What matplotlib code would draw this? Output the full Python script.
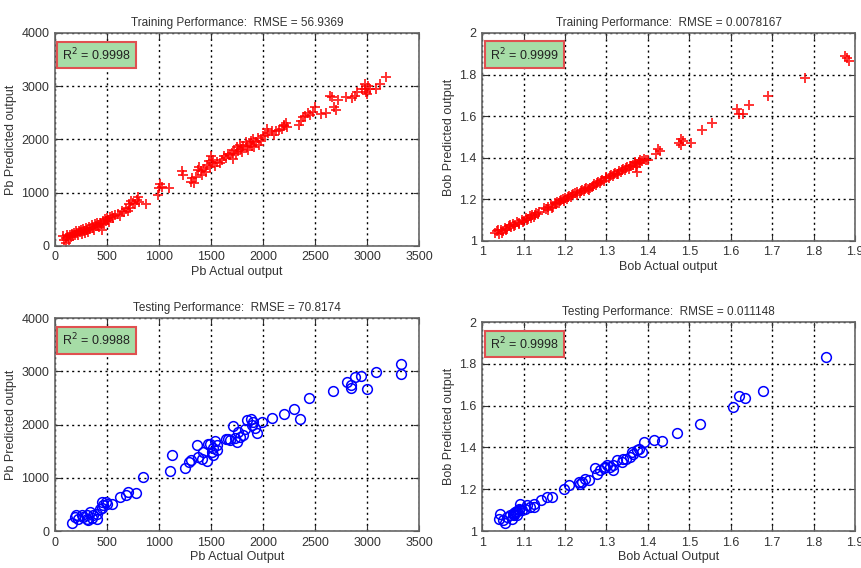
import matplotlib
matplotlib.use("Agg")
import matplotlib.pyplot as plt
from matplotlib.ticker import FuncFormatter

plt.rcParams['font.family'] = ['Liberation Sans Narrow', 'Liberation Sans', 'DejaVu Sans']

# Training Pb (actual, predicted)
pb_train_x = [80, 90, 100, 100, 110, 120, 130, 140, 150, 160, 170, 180, 190, 200, 210, 220, 230, 240,
              250, 260, 270, 280, 290, 300, 310, 320, 330, 340, 350, 360, 370, 380, 390, 400, 410, 420,
              430, 440, 450, 460, 470, 480, 490, 500, 510, 520, 530, 550, 560, 580, 600, 620, 640, 660,
              680, 700, 710, 720, 730, 750, 770, 790, 800, 810, 870,
              990, 1000, 1010, 1030, 1090,
              1220, 1230, 1310, 1320, 1330, 1350, 1370, 1380, 1400, 1410, 1430, 1450, 1460, 1480, 1490,
              1500, 1510, 1520, 1540, 1560, 1580, 1600, 1620, 1640, 1660, 1680, 1700, 1710, 1720, 1740,
              1750, 1760, 1780, 1790, 1800, 1810, 1830, 1840, 1850, 1870, 1880, 1890, 1900, 1910, 1930,
              1950, 1960, 1980, 2000, 2020, 2040, 2050, 2080, 2100, 2120, 2150, 2180, 2200, 2200, 2220,
              2230, 2340, 2360, 2380, 2400, 2430, 2450, 2480, 2500, 2560, 2600, 2640, 2660, 2680, 2700,
              2720, 2800, 2850, 2880, 2900, 2950, 2980, 2980, 2990, 3000, 3010, 3030, 3080, 3120, 3180]
pb_train_y = [180, 120, 60, 150, 200, 170, 110, 210, 160, 230, 190, 250, 210, 280, 240, 200, 290, 260,
              300, 230, 320, 280, 250, 340, 300, 270, 360, 320, 390, 340, 300, 410, 370, 430, 390, 350,
              440, 410, 300, 460, 420, 500, 470, 520, 480, 450, 540, 560, 520, 580, 600, 560, 650, 630,
              690, 660, 780, 720, 850, 800, 780, 870, 920, 820, 780,
              960, 1080, 1160, 1100, 1080,
              1400, 1340, 1200, 1280, 1180, 1300, 1420, 1480, 1400, 1340, 1450, 1380, 1520, 1600, 1480,
              1680, 1550, 1620, 1500, 1580, 1560, 1620, 1680, 1650, 1720, 1700, 1750, 1640, 1800, 1720,
              1850, 1780, 1900, 1820, 1760, 1880, 1950, 1850, 1800, 1920, 1980, 1880, 2000, 1850, 1950,
              2020, 1900, 1980, 2060, 2080, 2200, 2120, 2150, 2080, 2150, 2170, 2200, 2280, 2260, 2300,
              2240, 2280, 2350, 2420, 2440, 2500, 2460, 2520, 2600, 2480, 2500, 2820, 2800, 2600, 2550,
              2750, 2800, 2780, 2820, 2900, 2950, 3050, 2950, 2900, 2850, 3000, 2950, 2950, 3050, 3170]

# Testing Pb
pb_test_x = [160, 202, 224, 272, 310, 336, 368, 400, 432, 464, 490, 544, 304, 352, 400, 448, 496,
             192, 256, 320, 448,
             624, 682, 704, 778, 842, 1104, 1120, 1248, 1290, 1302, 1360, 1370, 1408, 1424, 1456,
             1472, 1488, 1504, 1514, 1520, 1536, 1552, 1558, 1642, 1664, 1680, 1706, 1728, 1744,
             1760, 1776, 1802, 1824, 1846, 1878, 1888, 1904, 1920, 1942, 1984, 2080, 2198, 2294,
             2358, 2442, 2672, 2806, 2848, 2848, 2880, 2944, 2998, 3088, 3328, 3328]
pb_test_y = [157, 295, 232, 264, 295, 358, 295, 327, 421, 484, 546, 515, 232, 251, 232, 433, 515,
             264, 308, 201, 546,
             640, 672, 735, 722, 1017, 1137, 1438, 1187, 1300, 1331, 1614, 1382, 1363, 1488, 1313,
             1639, 1626, 1488, 1426, 1551, 1701, 1614, 1520, 1727, 1727, 1708, 1978, 1740, 1677,
             1865, 1771, 1802, 1915, 2085, 2104, 1991, 2054, 1928, 1834, 2041, 2129, 2192, 2292,
             2104, 2506, 2631, 2795, 2744, 2682, 2901, 2920, 2669, 2983, 3140, 2945]

# Training Bob
bob_train_x = [1.030, 1.035, 1.040, 1.045, 1.050, 1.055, 1.060, 1.065, 1.070, 1.075, 1.080, 1.085,
               1.090, 1.095, 1.100, 1.105, 1.110, 1.115, 1.120, 1.125, 1.130, 1.135, 1.150, 1.155,
               1.160, 1.165, 1.170, 1.175, 1.180, 1.185, 1.190, 1.195, 1.200, 1.205, 1.210, 1.215,
               1.220, 1.225, 1.230, 1.235, 1.240, 1.245, 1.250, 1.255, 1.260, 1.265, 1.270, 1.275,
               1.280, 1.285, 1.290, 1.295, 1.300, 1.305, 1.310, 1.315, 1.320, 1.325, 1.330, 1.335,
               1.340, 1.345, 1.350, 1.355, 1.360, 1.365, 1.370, 1.375, 1.375, 1.380, 1.385, 1.390,
               1.395, 1.400,
               1.038, 1.048, 1.058, 1.068, 1.078, 1.088, 1.098, 1.108, 1.118, 1.128, 1.138, 1.158,
               1.168, 1.178, 1.188, 1.198, 1.208, 1.218, 1.228, 1.238, 1.248, 1.258, 1.268, 1.278,
               1.288, 1.298, 1.308, 1.318, 1.328, 1.338, 1.348, 1.358, 1.368, 1.372, 1.378, 1.382,
               1.420, 1.425, 1.430, 1.475, 1.480, 1.485, 1.480, 1.505, 1.530, 1.555, 1.615, 1.620,
               1.630, 1.645, 1.690, 1.780, 1.875, 1.885, 1.880]
bob_train_y = [1.040, 1.045, 1.035, 1.050, 1.045, 1.060, 1.055, 1.070, 1.065, 1.080, 1.075, 1.090,
               1.085, 1.100, 1.095, 1.110, 1.105, 1.120, 1.125, 1.115, 1.135, 1.130, 1.160, 1.155,
               1.165, 1.170, 1.165, 1.180, 1.185, 1.180, 1.195, 1.200, 1.205, 1.200, 1.215, 1.210,
               1.225, 1.230, 1.235, 1.230, 1.245, 1.240, 1.255, 1.250, 1.255, 1.260, 1.275, 1.270,
               1.285, 1.280, 1.295, 1.290, 1.305, 1.300, 1.315, 1.310, 1.325, 1.320, 1.335, 1.330,
               1.345, 1.340, 1.355, 1.345, 1.360, 1.365, 1.380, 1.330, 1.370, 1.390, 1.385, 1.395,
               1.390, 1.390,
               1.050, 1.040, 1.050, 1.075, 1.070, 1.080, 1.090, 1.100, 1.110, 1.125, 1.140, 1.150,
               1.160, 1.175, 1.190, 1.190, 1.210, 1.220, 1.220, 1.240, 1.250, 1.245, 1.265, 1.280,
               1.290, 1.300, 1.310, 1.320, 1.320, 1.340, 1.350, 1.360, 1.375, 1.355, 1.380, 1.375,
               1.420, 1.440, 1.430, 1.470, 1.490, 1.480, 1.460, 1.470, 1.535, 1.565, 1.635, 1.610,
               1.610, 1.655, 1.695, 1.785, 1.890, 1.865, 1.880]

# Testing Bob
bob_test_x = [1.830, 1.679, 1.635, 1.621, 1.605, 1.526, 1.471, 1.435, 1.415, 1.390, 1.378, 1.365,
              1.357, 1.348, 1.337, 1.325, 1.316, 1.309, 1.297, 1.285, 1.273, 1.277, 1.249, 1.241,
              1.237, 1.209, 1.197, 1.169, 1.157, 1.141, 1.124, 1.116, 1.108, 1.092, 1.088, 1.080,
              1.068, 1.060, 1.044, 1.051, 1.056, 1.084, 1.096, 1.104, 1.076, 1.072, 1.078, 1.082,
              1.085, 1.075, 1.090, 1.316, 1.341, 1.373, 1.386, 1.361, 1.301, 1.293, 1.259, 1.233,
              1.124, 1.040]
bob_test_y = [1.835, 1.670, 1.635, 1.648, 1.595, 1.510, 1.467, 1.430, 1.435, 1.424, 1.395, 1.371,
              1.355, 1.347, 1.331, 1.339, 1.318, 1.307, 1.307, 1.291, 1.302, 1.275, 1.251, 1.235,
              1.227, 1.219, 1.200, 1.163, 1.163, 1.147, 1.131, 1.115, 1.123, 1.131, 1.107, 1.091,
              1.075, 1.067, 1.083, 1.051, 1.040, 1.078, 1.099, 1.107, 1.075, 1.059, 1.085, 1.090,
              1.095, 1.083, 1.100, 1.291, 1.347, 1.387, 1.379, 1.379, 1.315, 1.302, 1.243, 1.235,
              1.115, 1.059]

fig = plt.figure(figsize=(8.61, 5.68), dpi=100)
fig.patch.set_facecolor('white')


def style_axes(ax, title, xlabel, ylabel, r2):
    ax.grid(True, color='black', linestyle=(0, (1.5, 2.5)), linewidth=1.0)
    ax.tick_params(direction='in', labelsize=9, colors='#333333', length=4,
                   top=True, right=True, pad=4)
    for s in ax.spines.values():
        s.set_color('#666666')
        s.set_linewidth(1.2)
    ax.set_title(title, fontsize=8.5, color='#333333', pad=5)
    ax.set_xlabel(xlabel, fontsize=9, color='#333333', labelpad=2)
    ax.set_ylabel(ylabel, fontsize=9, color='#333333', labelpad=3)
    ax.text(0.02, 0.935, 'R$^2$ = ' + r2, transform=ax.transAxes, fontsize=9,
            va='top', ha='left', color='#222222',
            bbox=dict(boxstyle='square,pad=0.4', facecolor='#a6dca6',
                      edgecolor='#e05050', linewidth=1.5))


fmt = FuncFormatter(lambda v, p: '%g' % round(v, 2))

# Training Pb
ax1 = fig.add_axes([0.064, 0.567, 0.423, 0.375])
ax1.plot(pb_train_x, pb_train_y, '+', color='red', markersize=7, mew=1.4, alpha=0.8)
ax1.set_xlim(0, 3500)
ax1.set_ylim(0, 4000)
ax1.set_xticks(range(0, 3501, 500))
ax1.set_yticks(range(0, 4001, 1000))
style_axes(ax1, 'Training Performance:  RMSE = 56.9369', 'Pb Actual output',
           'Pb Predicted output', '0.9998')

# Training Bob
ax2 = fig.add_axes([0.560, 0.576, 0.433, 0.366])
ax2.plot(bob_train_x, bob_train_y, '+', color='red', markersize=7, mew=1.4, alpha=0.8)
ax2.set_xlim(1, 1.9)
ax2.set_ylim(1, 2)
ax2.set_xticks([1 + 0.1 * i for i in range(10)])
ax2.set_yticks([1 + 0.2 * i for i in range(6)])
ax2.xaxis.set_major_formatter(fmt)
ax2.yaxis.set_major_formatter(fmt)
style_axes(ax2, 'Training Performance:  RMSE = 0.0078167', 'Bob Actual output',
           'Bob Predicted output', '0.9999')

# Testing Pb
ax3 = fig.add_axes([0.064, 0.065, 0.423, 0.375])
ax3.plot(pb_test_x, pb_test_y, 'o', markerfacecolor='none', markeredgecolor='blue',
         markersize=7, mew=1.1)
ax3.set_xlim(0, 3500)
ax3.set_ylim(0, 4000)
ax3.set_xticks(range(0, 3501, 500))
ax3.set_yticks(range(0, 4001, 1000))
style_axes(ax3, 'Testing Performance:  RMSE = 70.8174', 'Pb Actual Output',
           'Pb Predicted output', '0.9988')

# Testing Bob
ax4 = fig.add_axes([0.560, 0.065, 0.433, 0.368])
ax4.plot(bob_test_x, bob_test_y, 'o', markerfacecolor='none', markeredgecolor='blue',
         markersize=7, mew=1.1)
ax4.set_xlim(1, 1.9)
ax4.set_ylim(1, 2)
ax4.set_xticks([1 + 0.1 * i for i in range(10)])
ax4.set_yticks([1 + 0.2 * i for i in range(6)])
ax4.xaxis.set_major_formatter(fmt)
ax4.yaxis.set_major_formatter(fmt)
style_axes(ax4, 'Testing Performance:  RMSE = 0.011148', 'Bob Actual Output',
           'Bob Predicted output', '0.9998')

fig.savefig('out.png', dpi=100)
